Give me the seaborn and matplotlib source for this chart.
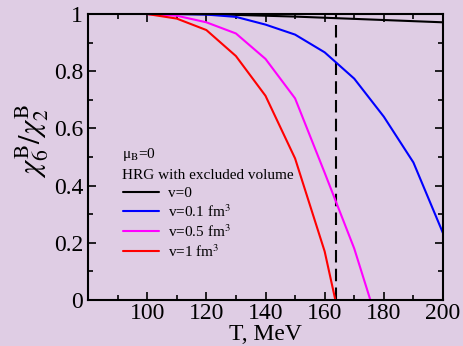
import matplotlib
matplotlib.use("Agg")
import matplotlib.pyplot as plt
import seaborn as sns
import pandas as pd

# Temperature grid (MeV)
T_full = [100, 110, 120, 130, 140, 150, 160, 170, 180, 190, 200]

# chi6/chi2 ratio for the HRG with excluded volume, per excluded volume v
ratio_v0 = [1.0, 1.0, 0.999, 0.997, 0.994, 0.991, 0.987, 0.983, 0.979, 0.975, 0.971]
ratio_v01 = [1.0, 1.0, 0.998, 0.99, 0.963, 0.928, 0.866, 0.774, 0.641, 0.481, 0.234]
T_v05 = [100, 110, 120, 130, 140, 150, 160, 170, 180]
ratio_v05 = [1.0, 0.994, 0.971, 0.932, 0.843, 0.705, 0.445, 0.18, -0.15]
T_v1 = [100, 110, 120, 130, 140, 150, 160, 170]
ratio_v1 = [1.0, 0.984, 0.944, 0.853, 0.714, 0.495, 0.17, -0.30]

series_labels = ["v=0", r"v=0.1 fm$^3$", r"v=0.5 fm$^3$", r"v=1 fm$^3$"]
series_colors = ["black", "blue", "magenta", "red"]

T_c = 164  # vertical marker temperature (MeV)

x_ticks = [100, 120, 140, 160, 180, 200]
y_ticks = [0, 0.2, 0.4, 0.6, 0.8, 1]
y_tick_labels = ["0", "0.2", "0.4", "0.6", "0.8", "1"]

frames = []
for lab, xs, ys in zip(series_labels,
                       [T_full, T_full, T_v05, T_v1],
                       [ratio_v0, ratio_v01, ratio_v05, ratio_v1]):
    frames.append(pd.DataFrame({"T": xs, "ratio": ys, "v": lab}))
df = pd.concat(frames, ignore_index=True)

sns.set_style("ticks")
bg = "#dfcde4"
plt.rcParams["font.family"] = ["Liberation Serif", "DejaVu Serif"]
plt.rcParams["mathtext.fontset"] = "stix"
for key in ("text.color", "axes.labelcolor", "xtick.color", "ytick.color"):
    plt.rcParams[key] = "black"

fig = plt.figure(figsize=(4.64, 3.46), dpi=100, facecolor=bg)
ax = fig.add_axes([0.1897, 0.1329, 0.7650, 0.8266])
ax.set_facecolor(bg)

sns.lineplot(data=df, x="T", y="ratio", hue="v", hue_order=series_labels,
             palette=series_colors, estimator=None, sort=True,
             linewidth=1.5, ax=ax, legend=True)

ax.axvline(T_c, color="black", linewidth=1.5, linestyle=(0, (6, 3)), zorder=1)

ax.set_xlim(80, 200)
ax.set_ylim(0, 1)
ax.set_xticks(x_ticks)
ax.set_xticks([90, 110, 130, 150, 170, 190], minor=True)
ax.set_yticks(y_ticks)
ax.set_yticklabels(y_tick_labels)
ax.set_yticks([0.1, 0.3, 0.5, 0.7, 0.9], minor=True)

ax.tick_params(which="both", direction="in", top=True, right=True,
               labelsize=17, width=1.2, colors="black")
ax.tick_params(which="major", length=6)
ax.tick_params(which="minor", length=3.5)
ax.tick_params(axis="x", pad=2)
for s in ax.spines.values():
    s.set_linewidth(1.5)
    s.set_color("black")

ax.set_xlabel("T, MeV", fontsize=17, labelpad=0)
ax.set_ylabel(r"$\chi_6^{\mathrm{B}}/\chi_2^{\mathrm{B}}$", fontsize=22)
ax.yaxis.set_label_coords(-0.105, 0.556)

# legend header lines
ax.text(0.095, 0.508, "μ$_\\mathrm{B}$=0", transform=ax.transAxes,
        fontsize=11, ha="left", va="center")
ax.text(0.095, 0.437, "HRG with excluded volume", transform=ax.transAxes,
        fontsize=11, ha="left", va="center")

leg = ax.legend(loc="upper left", bbox_to_anchor=(0.098, 0.398), frameon=False,
                fontsize=11, handlelength=2.4, handletextpad=0.55,
                labelspacing=0.22, borderaxespad=0, borderpad=0)
for h in leg.get_lines():
    h.set_linewidth(1.5)

fig.savefig("out.png", dpi=100, facecolor=bg)
